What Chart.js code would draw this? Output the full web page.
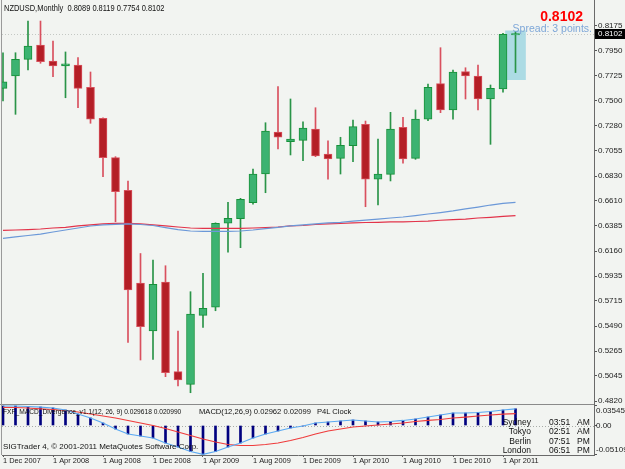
<!DOCTYPE html>
<html><head><meta charset="utf-8">
<script src="https://cdn.jsdelivr.net/npm/chart.js@4.4.1/dist/chart.umd.min.js"></script>
<style>
html,body{margin:0;padding:0;background:#f2f4f1;}
#wrap{position:relative;width:625px;height:469px;overflow:hidden;background:#f2f4f1;font-family:'Liberation Sans',Arial,sans-serif;}
canvas{position:absolute;left:0;}
#c1{top:0;}
#c2{top:404px;}
.t{position:absolute;white-space:pre;line-height:1;color:#111;}
#clock{position:absolute;left:0;top:405px;width:594px;height:49px;overflow:hidden;}
</style></head><body>
<div id="wrap">
<canvas id="c1" width="625" height="404"></canvas>
<canvas id="c2" width="625" height="65"></canvas>
<div class="t" id="title" style="left:4px;top:3.5px;font-size:8.3px;transform:scaleX(0.9);transform-origin:0 0;"></div>
<div class="t" id="bigPrice" style="right:42px;top:9px;font-size:14px;font-weight:bold;color:#ff0000"></div>
<div class="t" id="spread" style="right:33px;top:23px;font-size:10.5px;color:#7ea7d8"></div>
<div class="t" id="macdTitle1" style="left:3px;top:408px;font-size:7.8px;transform:scaleX(0.85);transform-origin:0 0;"></div>
<div class="t" id="macdTitle2" style="left:199px;top:408px;font-size:7.6px;"></div>
<div class="t" id="macdTitle3" style="left:317px;top:408px;font-size:7.6px;"></div>
<div class="t" id="copyright" style="left:3px;top:443px;font-size:8px;"></div>
<div id="clock"></div>
</div>
<script>
// ---------------- data ----------------
const months = ['Dec 2007','Jan 2008','Feb 2008','Mar 2008','Apr 2008','May 2008','Jun 2008','Jul 2008','Aug 2008','Sep 2008','Oct 2008','Nov 2008',
 'Dec 2008','Jan 2009','Feb 2009','Mar 2009','Apr 2009','May 2009','Jun 2009','Jul 2009','Aug 2009','Sep 2009','Oct 2009','Nov 2009',
 'Dec 2009','Jan 2010','Feb 2010','Mar 2010','Apr 2010','May 2010','Jun 2010','Jul 2010','Aug 2010','Sep 2010','Oct 2010','Nov 2010',
 'Dec 2010','Jan 2011','Feb 2011','Mar 2011','Apr 2011','May 2011'];
const openP  = [0.7613,0.7723,0.7872,0.8000,0.7857,0.7813,0.7821,0.7622,0.7346,0.6994,0.6703,0.5875,0.5446,0.5884,0.5083,0.4970,0.5586,0.5658,0.6408,0.6449,0.6592,0.6848,0.7223,0.7137,0.7149,0.7250,0.7027,0.6988,0.7101,0.7292,0.6801,0.6845,0.7265,0.6988,0.7337,0.7655,0.7420,0.7762,0.7723,0.7518,0.7607,0.8089];
const highP  = [0.7931,0.7931,0.8214,0.8214,0.8036,0.7938,0.7887,0.7759,0.7350,0.7003,0.6786,0.6138,0.6080,0.6029,0.5446,0.5797,0.5961,0.6412,0.6595,0.6631,0.6893,0.7306,0.7628,0.7518,0.7315,0.7440,0.7145,0.7176,0.7330,0.7321,0.7161,0.7399,0.7354,0.7420,0.7652,0.7976,0.7777,0.7797,0.7821,0.7643,0.8105,0.8119];
const lowP   = [0.7500,0.7381,0.7777,0.7837,0.7717,0.7529,0.7440,0.7301,0.6824,0.6422,0.5345,0.5187,0.5193,0.5038,0.4955,0.4895,0.5479,0.5627,0.6149,0.6190,0.6578,0.6681,0.7071,0.7018,0.6967,0.7003,0.6801,0.6848,0.6958,0.6556,0.6571,0.6786,0.6944,0.6979,0.7324,0.7396,0.7337,0.7518,0.7420,0.7113,0.7578,0.7754];
const closeP = [0.7672,0.7872,0.7991,0.7851,0.7813,0.7833,0.7613,0.7337,0.6994,0.6690,0.5812,0.5485,0.5863,0.5074,0.5009,0.5598,0.5649,0.6408,0.6453,0.6622,0.6848,0.7232,0.7176,0.7161,0.7259,0.7009,0.6982,0.7104,0.7271,0.6801,0.6848,0.7250,0.6982,0.7339,0.7622,0.7420,0.7759,0.7723,0.7518,0.7613,0.8096,0.8102];
const maBlue = [0.6274,0.6286,0.6299,0.6312,0.6330,0.6348,0.6366,0.6384,0.6393,0.6399,0.6402,0.6397,0.6388,0.6370,0.6352,0.6339,0.6335,0.6335,0.6335,0.6339,0.6348,0.6361,0.6372,0.6384,0.6393,0.6402,0.6411,0.6417,0.6428,0.6437,0.6446,0.6455,0.6464,0.6477,0.6491,0.6504,0.6518,0.6536,0.6553,0.6571,0.6585,0.6595];
const maRed  = [0.6344,0.6348,0.6352,0.6357,0.6366,0.6372,0.6384,0.6393,0.6402,0.6408,0.6408,0.6402,0.6393,0.6384,0.6375,0.6366,0.6363,0.6363,0.6363,0.6363,0.6366,0.6370,0.6375,0.6384,0.6388,0.6397,0.6402,0.6406,0.6411,0.6415,0.6417,0.6420,0.6420,0.6424,0.6428,0.6435,0.6440,0.6446,0.6455,0.6461,0.6469,0.6476];
const macdMain   = [0.0345,0.0345,0.0336,0.0327,0.0310,0.0274,0.0204,0.0133,0.0044,-0.0062,-0.0150,-0.0186,-0.0221,-0.0310,-0.0381,-0.0460,-0.0511,-0.0460,-0.0381,-0.0310,-0.0221,-0.0150,-0.0097,-0.0044,-0.0009,0.0044,0.0062,0.0080,0.0097,0.0080,0.0062,0.0071,0.0089,0.0115,0.0150,0.0186,0.0221,0.0221,0.0230,0.0248,0.0274,0.0296];
const macdSignal = [0.0322,0.0319,0.0310,0.0296,0.0283,0.0266,0.0239,0.0204,0.0168,0.0133,0.0089,0.0044,0.0000,-0.0053,-0.0115,-0.0177,-0.0239,-0.0292,-0.0336,-0.0354,-0.0354,-0.0336,-0.0310,-0.0266,-0.0212,-0.0150,-0.0097,-0.0062,-0.0027,-0.0009,0.0009,0.0027,0.0044,0.0071,0.0089,0.0106,0.0133,0.0150,0.0168,0.0186,0.0200,0.0210];
const priceTicks = [0.8175,0.7950,0.7725,0.7500,0.7280,0.7055,0.6830,0.6610,0.6385,0.6160,0.5935,0.5715,0.5490,0.5265,0.5045,0.4820];
const macdTickValues = [0.035453,0,-0.05109];
const macdTickLabels = ['0.035453','0.00','-0.05109'];
const dateTickIdx = [0,4,8,12,16,20,24,28,32,36,40];
const dateTickLabels = ['1 Dec 2007','1 Apr 2008','1 Aug 2008','1 Dec 2008','1 Apr 2009','1 Aug 2009','1 Dec 2009','1 Apr 2010','1 Aug 2010','1 Dec 2010','1 Apr 2011'];
const spreadBox = [0.7690, 0.8126];
const spreadPoints = 3;
const macdParams = 'FXF_MACD_Divergence_v1.1(12, 26, 9) 0.029618 0.020990';
const macdStd = 'MACD(12,26,9) 0.02962 0.02099';
const clockName = 'P4L Clock';
const clockCities = ['Sydney','Tokyo','Berlin','London'];
const clockTimes = ['03:51','02:51','07:51','06:51'];
const clockAmPm = ['AM','AM','PM','PM'];

// ---------------- derived ----------------
const N = closeP.length, last = N - 1;
const fmt = v => v.toFixed(4);
document.getElementById('title').textContent = 'NZDUSD,Monthly  ' + [openP[last],highP[last],lowP[last],closeP[last]].map(fmt).join(' ');
document.getElementById('bigPrice').textContent = fmt(closeP[last]);
document.getElementById('spread').textContent = 'Spread: ' + spreadPoints + ' points.';
document.getElementById('macdTitle1').textContent = macdParams;
document.getElementById('macdTitle2').textContent = macdStd;
document.getElementById('macdTitle3').textContent = clockName;
document.getElementById('copyright').textContent = 'SIGTrader 4, \u00a9 2001-2011 MetaQuotes Software Corp.';
const clk = document.getElementById('clock');
const rowTops = [12.5, 22, 31.5, 41];
clockCities.forEach((c, k) => {
  const a = document.createElement('div'); a.className='t'; a.textContent=c;
  a.style.cssText = `right:${594-531}px;top:${rowTops[k]}px;font-size:8.5px;`;
  const b = document.createElement('div'); b.className='t'; b.textContent=clockTimes[k];
  b.style.cssText = `left:549px;top:${rowTops[k]}px;font-size:8.5px;`;
  const d = document.createElement('div'); d.className='t'; d.textContent=clockAmPm[k];
  d.style.cssText = `left:577px;top:${rowTops[k]}px;font-size:8.5px;`;
  clk.appendChild(a); clk.appendChild(b); clk.appendChild(d);
});

const up = i => closeP[i] >= openP[i];
const GREEN_FILL = '#3cb371', GREEN_EDGE = '#17913a', GREEN_WICK = '#2a9448';
const RED_FILL = '#b41e26', RED_EDGE = '#d8505c', RED_WICK = '#d9505e';
const idx = [...Array(N).keys()];

const X_MIN = -0.08, X_MAX = 47.28;
const FONT = {family:"'Liberation Sans', Arial, sans-serif", size: 8};
const noPad = s => { s.paddingTop = 0; s.paddingBottom = 0; s.paddingLeft = 0; s.paddingRight = 0; };

// ---------------- main chart ----------------
const mainPlugin = {
  id: 'mainDeco',
  beforeDatasetsDraw(c) {
    const ctx = c.ctx, a = c.chartArea, y = Math.round(c.scales.y.getPixelForValue(closeP[last])) + 0.5;
    ctx.save();
    ctx.strokeStyle = '#c4c8c4'; ctx.lineWidth = 1; ctx.setLineDash([1, 2]);
    ctx.beginPath(); ctx.moveTo(a.left, y); ctx.lineTo(a.right, y); ctx.stroke();
    ctx.restore();
  },
  afterDraw(c) {
    const ctx = c.ctx, s = c.scales.y, a = c.chartArea;
    ctx.save();
    ctx.strokeStyle = '#9a9a9a'; ctx.lineWidth = 1;
    ctx.beginPath(); ctx.moveTo(1.5, 0); ctx.lineTo(1.5, a.bottom); ctx.stroke();
    const y = s.getPixelForValue(closeP[last]);
    ctx.fillStyle = '#000'; ctx.fillRect(s.left + 1, Math.round(y) - 5, 31, 10);
    ctx.fillStyle = '#fff'; ctx.font = "8px 'Liberation Sans', Arial, sans-serif";
    ctx.textBaseline = 'middle'; ctx.textAlign = 'left';
    ctx.fillText(fmt(closeP[last]), s.left + 4, Math.round(y));
    ctx.restore();
  }
};

new Chart(document.getElementById('c1'), {
  type: 'bar',
  data: {
    datasets: [
      { type: 'line', label: 'maBlue', data: idx.map(i => ({x: i, y: maBlue[i]})), borderColor: '#6b98d8', borderWidth: 1.2, pointRadius: 0, tension: 0, order: -2 },
      { type: 'line', label: 'maRed', data: idx.map(i => ({x: i, y: maRed[i]})), borderColor: '#e2334a', borderWidth: 1.2, pointRadius: 0, tension: 0, order: -1 },
      { label: 'bodies', data: idx.map(i => ({x: i, y: [openP[i], closeP[i]]})),
        backgroundColor: idx.map(i => up(i) ? GREEN_FILL : RED_FILL),
        borderColor: idx.map(i => up(i) ? GREEN_EDGE : RED_EDGE),
        borderWidth: 1, borderSkipped: false, barThickness: 8, minBarLength: 1, order: 0 },
      { label: 'wicks', data: idx.map(i => ({x: i, y: [lowP[i], highP[i]]})),
        backgroundColor: idx.map(i => up(i) ? GREEN_WICK : RED_WICK),
        borderWidth: 0, barThickness: 1, order: 1 },
      { label: 'spread', data: [{x: last, y: spreadBox}], backgroundColor: 'rgba(160,214,226,0.85)', borderWidth: 0, barThickness: 20, order: 3 }
    ]
  },
  options: {
    responsive: false, animation: false, devicePixelRatio: 1,
    layout: {padding: {left: 2, right: 0, top: 0, bottom: 0}},
    datasets: {bar: {grouped: false}},
    plugins: {legend: {display: false}, tooltip: {enabled: false}},
    scales: {
      x: {type: 'linear', min: X_MIN, max: X_MAX, offset: false, display: false},
      y: {type: 'linear', position: 'right', min: 0.479421, max: 0.840193, beginAtZero: false,
        afterBuildTicks: s => { s.ticks = priceTicks.map(v => ({value: v})); },
        afterFit: s => { s.width = 31; noPad(s); },
        ticks: {callback: v => fmt(v), font: FONT, color: '#222', padding: 1, autoSkip: false},
        grid: {drawOnChartArea: false, drawTicks: true, tickLength: 3, color: '#555'},
        border: {display: true, color: '#6a6a6a'}
      }
    }
  },
  plugins: [mainPlugin]
});

// ---------------- MACD chart ----------------
const macdPlugin = {
  id: 'macdDeco',
  beforeDatasetsDraw(c) {
    const ctx = c.ctx, a = c.chartArea, y = Math.round(c.scales.y.getPixelForValue(0)) + 0.5;
    ctx.save();
    ctx.strokeStyle = '#a8aca8'; ctx.lineWidth = 1; ctx.setLineDash([1, 2]);
    ctx.beginPath(); ctx.moveTo(a.left, y); ctx.lineTo(a.right, y); ctx.stroke();
    ctx.restore();
  },
  afterDraw(c) {
    const ctx = c.ctx, a = c.chartArea, s = c.scales.y;
    ctx.save();
    ctx.strokeStyle = '#8a8a8a'; ctx.lineWidth = 1;
    ctx.beginPath(); ctx.moveTo(0, 0.5); ctx.lineTo(a.right, 0.5); ctx.stroke();
    ctx.strokeStyle = '#9a9a9a';
    ctx.beginPath(); ctx.moveTo(1.5, 0); ctx.lineTo(1.5, a.bottom); ctx.stroke();
    ctx.fillStyle = '#222'; ctx.font = "8px 'Liberation Sans', Arial, sans-serif"; ctx.textAlign = 'left';
    macdTickValues.forEach((v, k) => {
      const y = s.getPixelForValue(v);
      ctx.textBaseline = k === 0 ? 'top' : (k === macdTickValues.length - 1 ? 'bottom' : 'middle');
      ctx.fillText(macdTickLabels[k], s.left + 2, y + (k === 0 ? 1 : (k === 2 ? -1 : 0)));
    });
    ctx.restore();
  }
};

new Chart(document.getElementById('c2'), {
  type: 'bar',
  data: {
    datasets: [
      { type: 'line', label: 'signal', data: idx.map(i => ({x: i, y: macdSignal[i]})), borderColor: '#ef3b3b', borderWidth: 1.2, pointRadius: 0, tension: 0, order: -1 },
      { type: 'line', label: 'main', data: idx.map(i => ({x: i, y: macdMain[i]})), borderColor: '#5aa9f2', borderWidth: 1.2, pointRadius: 0, tension: 0, order: -2 },
      { label: 'hist', data: idx.map(i => ({x: i, y: macdMain[i]})), backgroundColor: '#00007f', borderWidth: 0, barThickness: 2, order: 1 }
    ]
  },
  options: {
    responsive: false, animation: false, devicePixelRatio: 1,
    layout: {padding: {left: 2, right: 0, top: 0, bottom: 0}},
    datasets: {bar: {grouped: false}},
    plugins: {legend: {display: false}, tooltip: {enabled: false}},
    scales: {
      x: {type: 'linear', min: X_MIN, max: X_MAX, offset: false, position: 'bottom',
        afterBuildTicks: s => { s.ticks = dateTickIdx.map(v => ({value: v})); },
        afterFit: s => { s.height = 14; noPad(s); },
        ticks: {callback: v => dateTickLabels[dateTickIdx.indexOf(v)], align: 'start', maxRotation: 0, autoSkip: false,
          font: {family: FONT.family, size: 7.4}, color: '#222', padding: 0},
        grid: {drawOnChartArea: false, drawTicks: true, tickLength: 2, color: '#555', offset: false},
        border: {display: true, color: '#6a6a6a'}
      },
      y: {type: 'linear', position: 'right', min: -0.05222, max: 0.03806, beginAtZero: false,
        afterBuildTicks: s => { s.ticks = macdTickValues.map(v => ({value: v})); },
        afterFit: s => { s.width = 31; noPad(s); },
        ticks: {display: false},
        grid: {drawOnChartArea: false, drawTicks: true, tickLength: 3, color: '#555'},
        border: {display: true, color: '#6a6a6a'}
      }
    }
  },
  plugins: [macdPlugin]
});
</script>
</body></html>
